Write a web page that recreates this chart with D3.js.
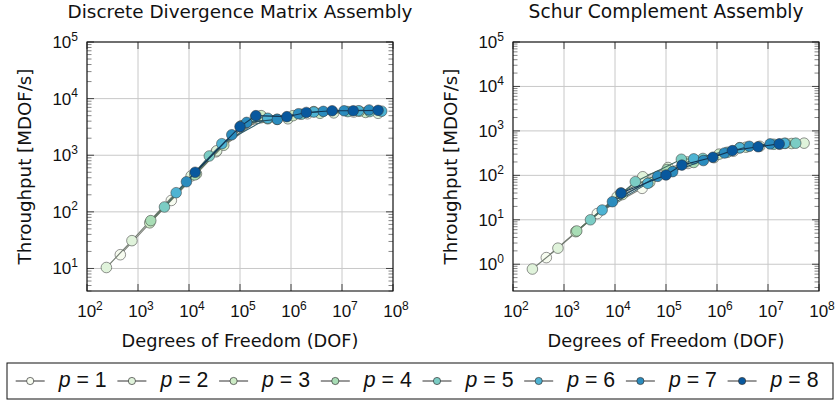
<!DOCTYPE html>
<html><head><meta charset="utf-8">
<script src="https://cdn.jsdelivr.net/npm/d3@7"></script>
<style>body{margin:0;background:#fff}svg{display:block}text{font-family:"DejaVu Sans","Liberation Sans",sans-serif;fill:#111}</style>
</head><body>
<svg id="c" width="836" height="404"></svg>
<script>
// ---- data ----
const pValues = [1,2,3,4,5,6,7,8];
const seriesColors = ["#f7fcf0","#e0f3db","#ccebc5","#a8ddb5","#7bccc4","#4eb3d3","#2b8cbe","#08589e"];
const titles = ["Discrete Divergence Matrix Assembly","Schur Complement Assembly"];
const xTickExps = [2,3,4,5,6,7,8];
const yTickExpsLeft = [1,2,3,4,5];
const yTickExpsRight = [0,1,2,3,4,5];

const dofP1 = [450,4500,34000,270000,2100000,17000000];
const divP1 = [17.5,159,1150,4700,5400,5800];
const schurP1 = [1.41,13.8,51,185,350,500];

const dofP2 = [240,760,11000,35000,110000,870000,6900000,51000000];
const divP2 = [10.4,31,430,1200,3300,4400,5600,5500];
const schurP2 = [0.78,2.3,33,93,150,250,450,530];

const dofP3 = [1700,14000,48000,260000,1100000,3700000,29000000];
const divP3 = [64,470,1500,5000,5000,5500,5700];
const schurP3 = [5.4,37,70,200,300,430,520];

const dofP4 = [1780,13000,105000,350000,2800000,22000000];
const divP4 = [70,450,3300,4400,5900,6000];
const schurP4 = [5.6,40,135,195,420,525];

const dofP5 = [3300,25000,200000,530000,1600000,13000000,35000000];
const divP5 = [122,970,4700,4300,5300,5900,5900];
const schurP5 = [10,72,230,240,330,500,530];

const dofP6 = [5600,44000,350000,2800000,21000000,60000000];
const divP6 = [218,1600,4500,5800,6100,6000];
const schurP6 = [16.6,66,235,415,525,null];

const dofP7 = [8900,69000,135000,540000,1400000,4300000,11000000,34000000];
const divP7 = [340,2300,3800,4300,5400,5950,6100,6300];
const schurP7 = [25.5,95,121,215,318,450,510,null];

const dofP8 = [13200,100000,205000,830000,2000000,6400000,16600000,51000000];
const divP8 = [500,3200,5000,4800,5700,6100,6100,6200];
const schurP8 = [40,102,170,255,360,440,510,null];

const dofs = [dofP1,dofP2,dofP3,dofP4,dofP5,dofP6,dofP7,dofP8];
const divs = [divP1,divP2,divP3,divP4,divP5,divP6,divP7,divP8];
const schurs = [schurP1,schurP2,schurP3,schurP4,schurP5,schurP6,schurP7,schurP8];

// ---- drawing ----
const svg = d3.select("#c");
const panels = [
  {x0:87, x1:393, y0:42, y1:291, ydom:[4,1e5], yexps:yTickExpsLeft, vals:divs, title:titles[0], tw:345},
  {x0:513, x1:819, y0:42, y1:291, ydom:[0.25,1e5], yexps:yTickExpsRight, vals:schurs, title:titles[1], tw:275}
];

function fit(sel, target){
  const w = sel.node().getComputedTextLength();
  const fs = parseFloat(sel.style("font-size"));
  sel.style("font-size", (fs*target/w).toFixed(2)+"px");
  return sel;
}

function powLabel(g, x, y, exp, anchor){
  const t = g.append("text").attr("x",x).attr("y",y).attr("text-anchor",anchor)
    .style("font-family","'Liberation Sans',Arial,sans-serif").style("font-size","17px");
  t.append("tspan").text("10");
  t.append("tspan").attr("dy",-7.5).style("font-size","12px").text(exp);
}

panels.forEach(P => {
  const g = svg.append("g");
  const x = d3.scaleLog().domain([1e2,1e8]).range([P.x0,P.x1]);
  const y = d3.scaleLog().domain(P.ydom).range([P.y1,P.y0]);
  // grid
  xTickExps.forEach(e => {
    const v = Math.pow(10,e);
    g.append("line").attr("x1",x(v)).attr("x2",x(v)).attr("y1",P.y0).attr("y2",P.y1).attr("stroke","#c8c8c8").attr("stroke-width",1);
  });
  P.yexps.forEach(e => {
    const v = Math.pow(10,e);
    g.append("line").attr("x1",P.x0).attr("x2",P.x1).attr("y1",y(v)).attr("y2",y(v)).attr("stroke","#c8c8c8").attr("stroke-width",1);
  });
  // minor y ticks
  const lo = Math.floor(Math.log10(P.ydom[0])), hi = Math.ceil(Math.log10(P.ydom[1]));
  for (let e=lo; e<hi; e++) for (let m=2; m<=9; m++) {
    const v = m*Math.pow(10,e);
    if (v < P.ydom[0] || v > P.ydom[1]) continue;
    g.append("line").attr("x1",P.x0).attr("x2",P.x0+4.5).attr("y1",y(v)).attr("y2",y(v)).attr("stroke","#666").attr("stroke-width",0.8);
    g.append("line").attr("x1",P.x1-4.5).attr("x2",P.x1).attr("y1",y(v)).attr("y2",y(v)).attr("stroke","#666").attr("stroke-width",0.8);
  }
  // major ticks
  P.yexps.forEach(e => {
    const v = Math.pow(10,e);
    g.append("line").attr("x1",P.x0).attr("x2",P.x0+7).attr("y1",y(v)).attr("y2",y(v)).attr("stroke","#444");
    g.append("line").attr("x1",P.x1-7).attr("x2",P.x1).attr("y1",y(v)).attr("y2",y(v)).attr("stroke","#444");
    powLabel(g, P.x0-9, y(v)+6, e, "end");
  });
  xTickExps.forEach(e => {
    const v = Math.pow(10,e);
    g.append("line").attr("x1",x(v)).attr("x2",x(v)).attr("y1",P.y1).attr("y2",P.y1-7).attr("stroke","#444");
    g.append("line").attr("x1",x(v)).attr("x2",x(v)).attr("y1",P.y0).attr("y2",P.y0+7).attr("stroke","#444");
    powLabel(g, x(v)+3, 317, e, "middle");
  });
  // frame
  g.append("rect").attr("x",P.x0).attr("y",P.y0).attr("width",P.x1-P.x0).attr("height",P.y1-P.y0)
    .attr("fill","none").attr("stroke","#111").attr("stroke-width",1.1);
  // series
  pValues.forEach((p,i) => {
    const pts = dofs[i].map((d,j)=>[d,P.vals[i][j]]).filter(d=>d[1]!=null);
    const c = seriesColors[i];
    const lc = d3.interpolateRgb(c,"#1a1a1a")(0.55);
    g.append("path").datum(pts).attr("fill","none").attr("stroke",lc).attr("stroke-width",1.1)
      .attr("d", d3.line().x(d=>x(d[0])).y(d=>y(d[1])));
    g.selectAll(null).data(pts).enter().append("circle")
      .attr("cx",d=>x(d[0])).attr("cy",d=>y(d[1])).attr("r",5.3)
      .attr("fill",c).attr("stroke","#333").attr("stroke-opacity",0.65).attr("stroke-width",0.8);
  });
  // labels
  const cx = (P.x0+P.x1)/2;
  fit(g.append("text").attr("x",cx).attr("y",18).attr("text-anchor","middle").style("font-size","17px").text(P.title), P.tw);
  fit(g.append("text").attr("x",cx).attr("y",347).attr("text-anchor","middle").style("font-size","17px").text("Degrees of Freedom (DOF)"), 237);
  fit(g.append("text").attr("transform",`translate(${P.x0-56},${(P.y0+P.y1)/2}) rotate(-90)`).attr("text-anchor","middle")
    .style("font-size","17px").text("Throughput [MDOF/s]"), 196);
});

// legend
const lg = svg.append("g");
lg.append("rect").attr("x",7).attr("y",363).attr("width",826).attr("height",36).attr("fill","#fff").attr("stroke","#111").attr("stroke-width",1);
pValues.forEach((p,i) => {
  const xs = 15.7 + i*101.7;
  lg.append("line").attr("x1",xs).attr("x2",xs+29).attr("y1",381).attr("y2",381).attr("stroke","#333").attr("stroke-width",1);
  lg.append("circle").attr("cx",xs+14.5).attr("cy",381).attr("r",3.6).attr("fill",seriesColors[i]).attr("stroke","#333").attr("stroke-width",0.7);
  const t = lg.append("text").attr("x",xs+43).attr("y",387).style("font-size","18px")
    .style("font-family","'Liberation Sans',Arial,sans-serif");
  t.append("tspan").style("font-style","italic").text("p");
  t.append("tspan").text(" = " + p);
  fit(t, 48);
});
</script>
</body></html>
